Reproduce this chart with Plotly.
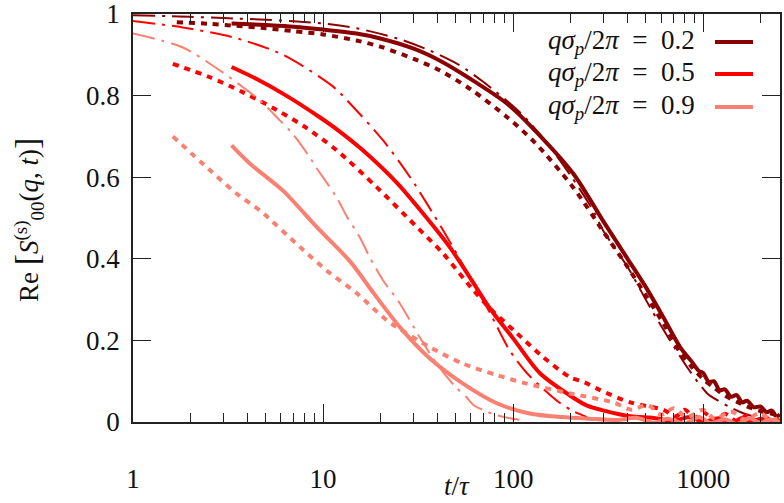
import plotly.graph_objects as go

# ---------------- data ----------------
# q sigma_p / 2pi = 0.2 (dark red)
t02_sim = [3.3, 5, 7, 10, 15, 20, 30, 41, 60, 93, 130, 207, 300, 400, 500, 620, 757, 870, 950, 1000, 1070, 1136, 1220, 1300, 1400, 1500, 1600, 1700, 1850, 2000, 2150, 2300, 2420, 2535]
y02_sim = [0.977, 0.973, 0.969, 0.962, 0.952, 0.94, 0.915, 0.886, 0.84, 0.78, 0.715, 0.609, 0.49, 0.40, 0.33, 0.255, 0.183, 0.148, 0.125, 0.12, 0.098, 0.10, 0.078, 0.08, 0.062, 0.066, 0.048, 0.052, 0.036, 0.038, 0.024, 0.028, 0.014, 0.018]
t02_th1 = [1.7, 2.5, 3.5, 5, 7, 10, 15, 20, 30, 41, 60, 93, 130, 207, 300, 400, 500, 620, 757, 870, 1000, 1136, 1300, 1500, 1700, 2000, 2300, 2535]
y02_th1 = [0.98, 0.976, 0.971, 0.965, 0.958, 0.95, 0.935, 0.92, 0.89, 0.862, 0.815, 0.747, 0.685, 0.575, 0.465, 0.38, 0.31, 0.24, 0.17, 0.135, 0.105, 0.085, 0.065, 0.05, 0.038, 0.027, 0.02, 0.015]
t02_th2 = [1, 1.5, 2, 3, 5, 7, 10.9, 15, 24.6, 36.6, 52, 69, 108, 150, 200, 264, 297, 400, 527, 700, 850, 1050, 1190, 1400, 1700, 2100, 2535]
y02_th2 = [0.997, 0.995, 0.993, 0.99, 0.986, 0.982, 0.975, 0.965, 0.94, 0.91, 0.875, 0.835, 0.76, 0.685, 0.605, 0.518, 0.47, 0.38, 0.28, 0.185, 0.125, 0.07, 0.053, 0.035, 0.018, 0.009, 0.004]

# q sigma_p / 2pi = 0.5 (red)
t05_sim = [3.3, 4.5, 6.4, 9.6, 12, 16.2, 24.6, 33.6, 46.5, 60, 75, 100, 138, 199, 245, 300, 414, 550, 700, 850, 1000, 1200, 1400, 1600, 1800, 2000, 2250, 2535]
y05_sim = [0.87, 0.84, 0.80, 0.747, 0.715, 0.666, 0.585, 0.511, 0.428, 0.35, 0.28, 0.205, 0.12, 0.065, 0.04, 0.028, 0.014, 0.01, 0.003, 0.012, 0.0, 0.009, -0.004, 0.01, 0.0, 0.008, -0.003, 0.006]
t05_th1 = [1.62, 2.54, 3.8, 5.7, 8.1, 11.8, 19.2, 31.3, 42.8, 60, 75, 105, 144, 199, 238, 287, 414, 618, 720, 800, 900, 1000, 1150, 1300, 1500, 1700, 1900, 2100, 2300, 2535]
y05_th1 = [0.878, 0.845, 0.808, 0.765, 0.722, 0.666, 0.575, 0.477, 0.413, 0.33, 0.28, 0.217, 0.159, 0.11, 0.097, 0.078, 0.048, 0.03, 0.014, 0.03, 0.01, 0.024, 0.004, 0.02, 0.002, 0.016, 0.003, 0.014, 0.0, 0.01]
t05_th2 = [1, 1.83, 3.36, 6.15, 11.3, 13.4, 20.7, 28.7, 42.8, 60, 75, 96, 118, 145, 177, 210, 245]
y05_th2 = [0.983, 0.967, 0.943, 0.90, 0.822, 0.788, 0.69, 0.60, 0.47, 0.35, 0.27, 0.175, 0.12, 0.08, 0.046, 0.025, 0.012]

# q sigma_p / 2pi = 0.9 (salmon)
t09_sim = [3.3, 4.13, 6.15, 9.3, 13.9, 18.3, 25.4, 36.6, 54.5, 82, 122, 180, 250, 350, 450, 550, 650, 800, 950, 1100, 1300, 1500, 1750, 2000, 2250, 2535]
y09_sim = [0.678, 0.633, 0.567, 0.477, 0.393, 0.318, 0.232, 0.155, 0.094, 0.046, 0.021, 0.012, 0.008, 0.005, 0.01, -0.002, 0.008, -0.004, 0.012, -0.003, 0.007, -0.005, 0.009, -0.002, 0.006, 0.0]
t09_th1 = [1.62, 2.5, 3.5, 4.66, 7.6, 10.4, 15.1, 21.7, 36.6, 54.5, 82, 118, 199, 336, 420, 510, 600, 700, 820, 1000, 1150, 1400, 1650, 2000, 2250, 2535]
y09_th1 = [0.70, 0.62, 0.56, 0.518, 0.428, 0.372, 0.315, 0.249, 0.183, 0.143, 0.115, 0.094, 0.07, 0.048, 0.03, 0.042, 0.018, 0.034, 0.012, 0.03, 0.008, 0.026, 0.006, 0.022, 0.004, 0.012]
t09_th2 = [1, 1.83, 2.9, 3.8, 4.66, 5.9, 6.9, 8.5, 9.2, 11.8, 13.4, 15.6, 17.6, 20.7, 25.4, 32, 40, 50, 57, 62, 70, 80, 96, 110]
y09_th2 = [0.952, 0.918, 0.86, 0.82, 0.788, 0.74, 0.707, 0.649, 0.624, 0.55, 0.502, 0.453, 0.404, 0.347, 0.29, 0.21, 0.14, 0.085, 0.06, 0.041, 0.029, 0.018, 0.009, 0.005]

legend_labels = ["0.2", "0.5", "0.9"]
x_ticks = [1, 10, 100, 1000]
y_ticks = [0, 0.2, 0.4, 0.6, 0.8, 1]
x_title = "<i>t</i>/<i>τ</i>"
y_title = ("Re <span style='font-size:34px'>[</span><i>S</i><sup>(s)</sup><sub>00</sub>"
           "(<i>q</i>, <i>t</i>)<span style='font-size:34px'>]</span>")

# ---------------- styling ----------------
colors = ["#8b0000", "#ff0000", "#fa8072"]
W, H = 784, 503
L, R, T, B = 133, 4, 14, 81
FONT = "Liberation Serif, Times New Roman, Tinos, DejaVu Serif, serif"
FS = 27

groups = [
    (t02_sim, y02_sim, t02_th1, y02_th1, t02_th2, y02_th2),
    (t05_sim, y05_sim, t05_th1, y05_th1, t05_th2, y05_th2),
    (t09_sim, y09_sim, t09_th1, y09_th1, t09_th2, y09_th2),
]

fig = go.Figure()
for c, (ts, ys, t1, y1, t2, y2) in zip(colors, groups):
    fig.add_trace(go.Scatter(x=t2, y=y2, mode="lines", showlegend=False,
                             line=dict(color=c, width=2, dash="22px,7px,3px,7px",
                                       shape="spline", smoothing=0.8)))
    fig.add_trace(go.Scatter(x=t1, y=y1, mode="lines", showlegend=False,
                             line=dict(color=c, width=4, dash="6px,6px",
                                       shape="spline", smoothing=0.8)))
    fig.add_trace(go.Scatter(x=ts, y=ys, mode="lines", showlegend=False,
                             line=dict(color=c, width=4, shape="spline", smoothing=0.8)))

minor_vals = [m * 10 ** e for e in range(0, 4) for m in range(2, 10)]

fig.update_xaxes(
    type="log", range=[0, 3.404], automargin=False,
    tickvals=x_ticks, ticktext=[str(v) for v in x_ticks],
    ticks="inside", ticklen=18, tickwidth=1.3, tickcolor="#222",
    minor=dict(tickvals=minor_vals, ticks="inside", ticklen=9, tickwidth=1.3, tickcolor="#222"),
    showline=True, linecolor="#222", linewidth=1.5, mirror="allticks",
    showgrid=False, zeroline=False,
    tickfont=dict(family=FONT, size=FS, color="#111"),
    ticklabelstandoff=32, ticklabeloverflow="allow",
)
fig.update_yaxes(
    range=[0, 1], automargin=False,
    tickvals=y_ticks, ticktext=[("%g" % v) for v in y_ticks],
    ticks="inside", ticklen=18, tickwidth=1.3, tickcolor="#222",
    showline=True, linecolor="#222", linewidth=1.5, mirror="allticks",
    showgrid=False, zeroline=False,
    tickfont=dict(family=FONT, size=FS, color="#111"),
    ticklabelstandoff=6, ticklabeloverflow="allow",
)

pw, ph = W - L - R, H - T - B
def px(x):
    return (x - L) / pw
def py(y):
    return 1 - (y - T) / ph

# axis titles
fig.add_annotation(x=px(457), y=py(486), xref="paper", yref="paper",
                   xanchor="center", yanchor="middle", showarrow=False,
                   text=x_title, font=dict(family=FONT, size=FS, color="#111"))
fig.add_annotation(x=px(28), y=py(220), xref="paper", yref="paper",
                   xanchor="center", yanchor="middle", showarrow=False, textangle=-90,
                   text=y_title, font=dict(family=FONT, size=FS, color="#111"))

# manual legend (text on the left, line sample on the right)
leg_y = [42, 74, 107]
for c, lab, yy in zip(colors, legend_labels, leg_y):
    fig.add_annotation(
        x=px(697), y=py(yy), xref="paper", yref="paper", xanchor="right", yanchor="middle",
        showarrow=False,
        text="<i>qσ</i><sub><i>p</i></sub>/2<i>π</i>&nbsp;&nbsp;=&nbsp;&nbsp;" + lab,
        font=dict(family=FONT, size=FS, color="#111"),
    )
    fig.add_shape(type="line", xref="paper", yref="paper",
                  x0=px(715), x1=px(753), y0=py(yy), y1=py(yy),
                  line=dict(color=c, width=4))

fig.update_layout(
    width=W, height=H,
    margin=dict(l=L, r=R, t=T, b=B),
    paper_bgcolor="white", plot_bgcolor="white",
    font=dict(family=FONT),
)

fig.write_html("out.html")
